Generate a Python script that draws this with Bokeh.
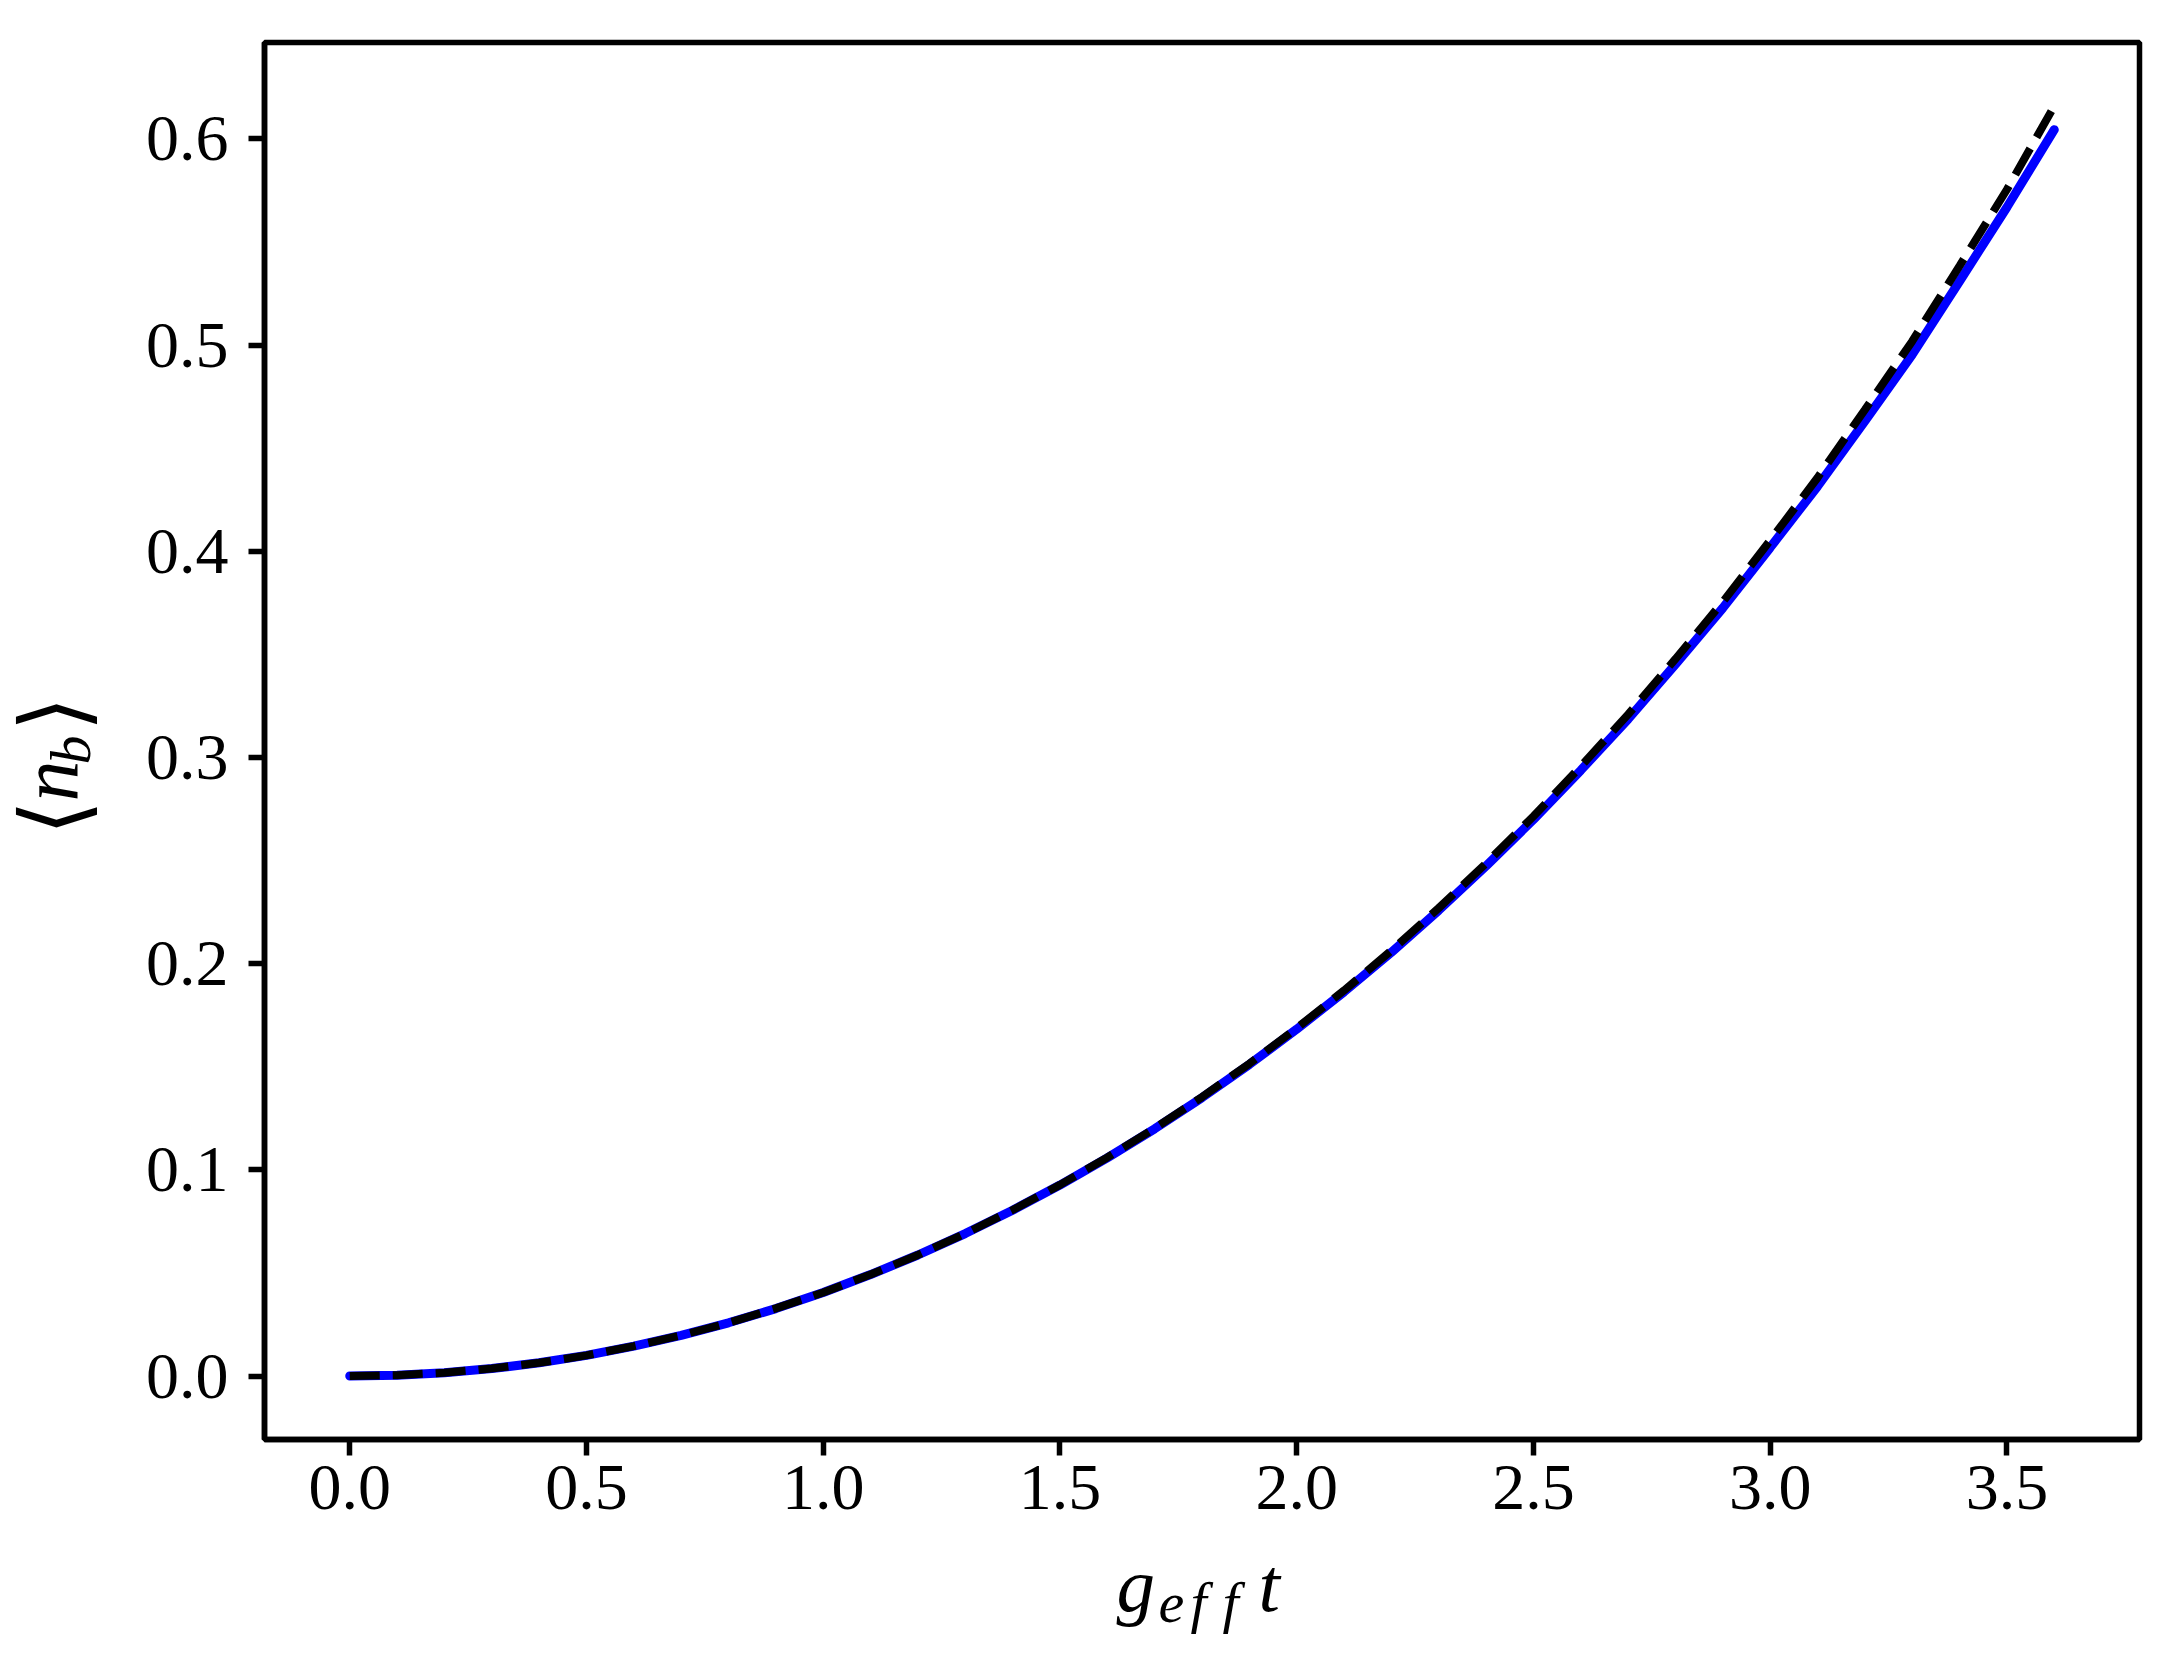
import math
from bokeh.plotting import figure
from bokeh.models import Range1d, FixedTicker, PrintfTickFormatter
from bokeh.layouts import row, column
from bokeh.core.properties import value
from bokeh.embed import file_html
from bokeh.resources import INLINE

# ---- data ----
g_eff_t = [0.0, 0.1, 0.2, 0.3, 0.4, 0.5, 0.6, 0.7, 0.8, 0.9,
           1.0, 1.1, 1.2, 1.3, 1.4, 1.5, 1.6, 1.7, 1.8, 1.9,
           2.0, 2.1, 2.2, 2.3, 2.4, 2.5, 2.6, 2.7, 2.8, 2.9,
           3.0, 3.1, 3.2, 3.3, 3.4, 3.5, 3.6]
n_b_numeric = [0.0, 0.0004, 0.0016, 0.0036, 0.0064, 0.0100, 0.0145, 0.0197, 0.0258, 0.0327,
               0.0405, 0.0492, 0.0587, 0.0691, 0.0804, 0.0926, 0.1058, 0.1199, 0.1350, 0.1511,
               0.1682, 0.1863, 0.2055, 0.2259, 0.2474, 0.2699, 0.2938, 0.3186, 0.3452, 0.3725,
               0.4018, 0.4315, 0.4632, 0.4954, 0.5310, 0.5669, 0.6045]
n_b_analytic = [0.0, 0.0004, 0.0016, 0.0036, 0.0064, 0.0100, 0.0145, 0.0197, 0.0258, 0.0328,
                0.0405, 0.0492, 0.0587, 0.0691, 0.0805, 0.0927, 0.1060, 0.1201, 0.1353, 0.1515,
                0.1687, 0.1870, 0.2064, 0.2270, 0.2487, 0.2715, 0.2957, 0.3209, 0.3478, 0.3755,
                0.4053, 0.4357, 0.4687, 0.5019, 0.5385, 0.5755, 0.6160]
x_ticks = [0.0, 0.5, 1.0, 1.5, 2.0, 2.5, 3.0, 3.5]
y_ticks = [0.0, 0.1, 0.2, 0.3, 0.4, 0.5, 0.6]

# ranges with matplotlib-like 5% margins
xmin, xmax = min(g_eff_t), max(g_eff_t)
ymin, ymax = min(n_b_analytic + n_b_numeric), max(n_b_analytic + n_b_numeric)
xm, ym = 0.05 * (xmax - xmin), 0.05 * (ymax - ymin)
x_lo, x_hi = xmin - xm, xmax + xm
y_lo, y_hi = ymin - ym, ymax + ym

# ---- layout geometry (page pixels) ----
TOTAL_W, TOTAL_H = 2170, 1650
LEFT_W = 120          # strip holding the y-axis label
MAIN_W = TOTAL_W - LEFT_W
MAIN_H = 1540
BOTTOM_H = TOTAL_H - MAIN_H   # strip holding the x-axis label

FL, FR, FT, FB = 263.5, 2138.7, 41.7, 1439.0  # frame edges in page coords

main = figure(width=MAIN_W, height=MAIN_H, output_backend="svg", toolbar_location=None,
              title=None,
              x_range=Range1d(x_lo, x_hi), y_range=Range1d(y_lo, y_hi),
              min_border_left=int(round(FL - LEFT_W)),
              min_border_right=int(round(TOTAL_W - FR)),
              min_border_top=int(round(FT)),
              min_border_bottom=int(round(MAIN_H - FB)))
main.background_fill_color = "white"
main.border_fill_color = "white"
main.outline_line_color = "black"
main.outline_line_width = 5.5
main.xgrid.visible = False
main.ygrid.visible = False

TICK_FONT = "Liberation Serif"
for ax in (main.xaxis[0], main.yaxis[0]):
    ax.axis_line_color = "black"
    ax.axis_line_width = 5.5
    ax.major_tick_line_width = 5.5
    ax.major_tick_line_color = "black"
    ax.major_tick_out = 16
    ax.major_tick_in = 0
    ax.minor_tick_line_color = None
    ax.major_label_text_font = TICK_FONT
    ax.major_label_text_font_size = "66px"
    ax.major_label_text_color = "black"

main.xaxis[0].ticker = FixedTicker(ticks=x_ticks)
main.yaxis[0].ticker = FixedTicker(ticks=y_ticks)
main.xaxis[0].formatter = PrintfTickFormatter(format="%.1f")
main.yaxis[0].formatter = PrintfTickFormatter(format="%.1f")
main.xaxis[0].major_label_standoff = 10
main.yaxis[0].major_label_standoff = 20

# curves: numerical (blue solid) under analytic (black dashed)
main.line(g_eff_t, n_b_numeric, line_color="#0000ff", line_width=9, line_cap="round")
main.line(g_eff_t, n_b_analytic, line_color="black", line_width=8, line_dash="30 13")


def strip(w, h):
    f = figure(frame_width=w, frame_height=h, output_backend="svg", toolbar_location=None,
               title=None,
               x_range=Range1d(0, w), y_range=Range1d(0, h),
               x_axis_location=None, y_axis_location=None,
               min_border=0, min_border_left=0, min_border_right=0,
               min_border_top=0, min_border_bottom=0)
    f.outline_line_color = None
    f.background_fill_color = "white"
    f.border_fill_color = "white"
    f.xgrid.visible = False
    f.ygrid.visible = False
    return f


DROP = 0.32      # observed shift of the drawn baseline below the anchor (horizontal text), em
DROP_ROT = 0.35  # same, for the rotated y-label texts


def put(f, text, x, y, size, font="Liberation Serif", style="italic", angle=0.0):
    f.text(x=[x], y=[y], text=[text], angle=angle,
           text_font=value(font), text_font_size=value(f"{size}px"), text_font_style=style,
           text_color="black", text_align="left", text_baseline="alphabetic")


# left strip: y-axis label <n_b>, rotated (page y 0..MAIN_H, x 0..LEFT_W)
left = strip(LEFT_W, MAIN_H)
ly = lambda page_y: MAIN_H - page_y
a = math.pi / 2
def put_rot(text, base_x, start_y, size, **kw):
    put(left, text, base_x - DROP_ROT * size, ly(start_y), size, angle=a, **kw)

put_rot("\u27e8", 85, 793, 91, font="DejaVu Sans", style="normal")
put_rot("n", 78, 759, 82)
put_rot("b", 90, 722, 58)
put_rot("\u27e9", 85, 689, 91, font="DejaVu Sans", style="normal")

# bottom strip: x-axis label g_{eff} t (page y MAIN_H..TOTAL_H, x 0..TOTAL_W)
bottom = strip(TOTAL_W, BOTTOM_H)
by = lambda page_y: TOTAL_H - page_y
def put_h(text, left_x, base_y, size):
    put(bottom, text, left_x, by(base_y - DROP * size), size)

put_h("g", 1116, 1609, 77)
put_h("e", 1158, 1621, 58)
put_h("f", 1190, 1621, 58)
put_h("f", 1222, 1621, 58)
put_h("t", 1258, 1609, 77)

layout = column(row(left, main, spacing=0), bottom, spacing=0)
open("out.html", "w").write(file_html(layout, INLINE))
